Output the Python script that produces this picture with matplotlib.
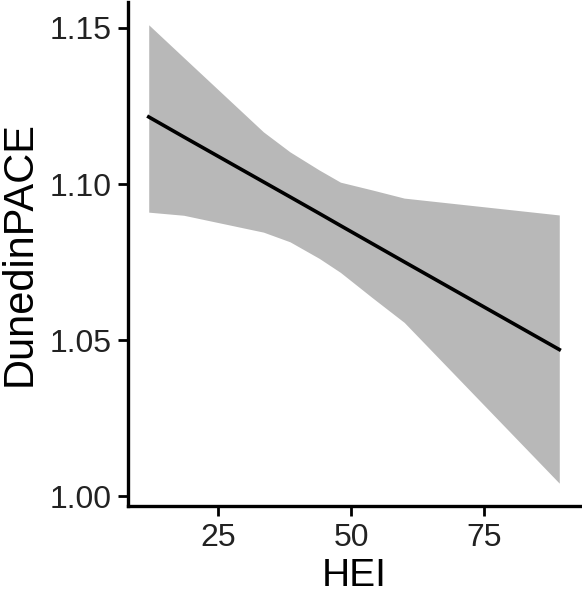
import numpy as np
import matplotlib
matplotlib.use('Agg')
import matplotlib.pyplot as plt

plt.rcParams['font.family'] = ['Liberation Sans', 'DejaVu Sans']

# Data
hei = [11.9, 18.5, 33.5, 38.5, 44.0, 48.0, 54.0, 60.0, 89.2]
pace_fit = [1.1215, 1.1151, 1.1007, 1.0959, 1.0906, 1.0867, 1.0809, 1.0751, 1.0470]
pace_upper = [1.1510, 1.1405, 1.1167, 1.1103, 1.1045, 1.1006, 1.0981, 1.0955, 1.0901]
pace_lower = [1.0910, 1.0900, 1.0846, 1.0815, 1.0762, 1.0717, 1.0636, 1.0557, 1.0042]

x_ticks = [25, 50, 75]
y_ticks = [1.00, 1.05, 1.10, 1.15]

fig = plt.figure(figsize=(5.82, 5.93), dpi=100)
ax = fig.add_axes([128 / 582, 87 / 593, (580 - 128) / 582, (591 - 87) / 593])

ax.fill_between(hei, pace_lower, pace_upper, color='#b8b8b8', linewidth=0)
ax.plot(hei, pace_fit, color='black', linewidth=2.6)

ax.set_xlim(8.0, 93.1)
ax.set_ylim(0.9969, 1.1583)
ax.set_xticks(x_ticks)
ax.set_yticks(y_ticks)
ax.set_yticklabels(['{:.2f}'.format(v) for v in y_ticks])

for side in ['top', 'right']:
    ax.spines[side].set_visible(False)
for side in ['left', 'bottom']:
    ax.spines[side].set_linewidth(2.4)
ax.tick_params(axis='both', width=2.0, length=7, labelsize=23, colors='black', pad=5)
for lbl in ax.get_xticklabels() + ax.get_yticklabels():
    lbl.set_color('#222222')

ax.set_xlabel('HEI', fontsize=28, labelpad=4)
ax.set_ylabel('DunedinPACE', fontsize=30, labelpad=7)

fig.savefig('out.png', dpi=100)
